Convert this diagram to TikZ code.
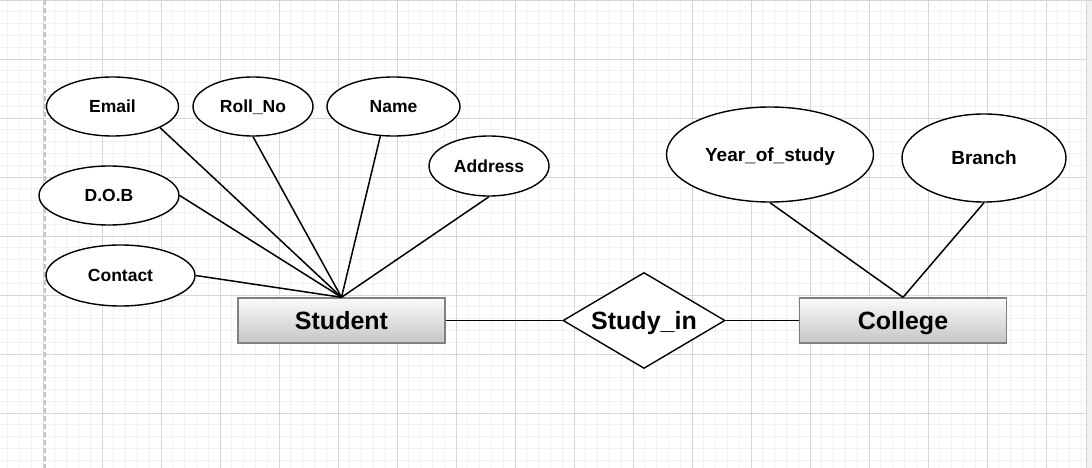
\documentclass[tikz,border=0pt]{standalone}
\usepackage{fontspec}
\setmainfont{Liberation Sans}
\usepackage{tikz}
\usetikzlibrary{shapes}
\usetikzlibrary{shapes.geometric}
\definecolor{minorgrid}{HTML}{F1F1F1}
\definecolor{majorgrid}{HTML}{D6D6D6}
\definecolor{guide}{HTML}{C2C2C2}
\definecolor{boxedge}{HTML}{808080}
\tikzset{
    finegrid/.style={draw=minorgrid, line width=0.7pt},
    coarsegrid/.style={draw=majorgrid, line width=0.9pt},
    guideline/.style={draw=guide, line width=2pt, dash pattern=on 5pt off 3pt},
    attr/.style={ellipse, draw=black, fill=white, line width=1.4pt, inner sep=0pt,
        text height=12.6pt, text depth=0pt,
        font=\fontsize{17.5}{20}\selectfont\bfseries},
    bigattr/.style={attr, text height=13.7pt,
        font=\fontsize{19}{22}\selectfont\bfseries},
    entity/.style={rectangle, draw=boxedge, line width=1.4pt, top color=gray!4,
        bottom color=gray!45, minimum width=207pt, minimum height=45pt,
        text height=18pt, text depth=0pt,
        font=\fontsize{25}{28}\selectfont\bfseries},
    relation/.style={diamond, draw=black, fill=white, line width=1.4pt, inner sep=0pt,
        aspect=1.69, minimum width=162pt, minimum height=96pt,
        text height=18pt, text depth=0pt,
        font=\fontsize{25}{28}\selectfont\bfseries},
    link/.style={draw=black, line width=1.5pt},
}

\begin{document}
\begin{tikzpicture}[x=1pt, y=-1pt]
\useasboundingbox (0,0) rectangle (1092,468);
\fill[white] (0,0) rectangle (1092,468);
% background grid
\foreach \i in {-4,...,88}
	\draw[finegrid] ({43+11.8*\i},0) -- ({43+11.8*\i},468);
\foreach \j in {0,...,39}
	\draw[finegrid] (0,{11.8*\j}) -- (1092,{11.8*\j});
\foreach \i in {0,...,17}
	\draw[coarsegrid] ({43+59*\i},0) -- ({43+59*\i},468);
\foreach \j in {0,...,7}
	\draw[coarsegrid] (0,{59*\j}) -- (1092,{59*\j});
\fill[minorgrid] (1086,0) rectangle (1092,468);
\draw[coarsegrid] (1086,0) -- (1086,468);
\draw[coarsegrid] (0,0.5) -- (1092,0.5);
\draw[guideline] (45,0) -- (45,468);

% Student side
\node[entity] (student) at (341.5,320.5) {Student};
\node[attr, minimum width=132pt, minimum height=59pt] (email) at (112.5,106.5) {Email};
\node[attr, minimum width=120pt, minimum height=59pt] (rollno) at (253,106.5) {Roll\_No};
\node[attr, minimum width=133pt, minimum height=59pt] (name) at (393.5,106.5) {Name};
\node[attr, minimum width=120pt, minimum height=60pt] (address) at (489,166) {Address};
\node[attr, minimum width=140pt, minimum height=59pt] (dob) at (109,195.5) {D.O.B};
\node[attr, minimum width=149pt, minimum height=61pt] (contact) at (120.5,275.5) {Contact};

% College side
\node[entity] (college) at (903,320.5) {College};
\node[bigattr, minimum width=207pt, minimum height=95pt] (year) at (770,154.5) {Year\_of\_study};
\node[bigattr, minimum width=164pt, minimum height=88pt] (branch) at (984,158) {Branch};

% relationship
\node[relation] (studyin) at (644,320.5) {Study\_in};

\draw[link] (email.-24) -- (student.north);
\draw[link] (rollno.south) -- (student.north);
\draw[link] (name.-114) -- (student.north);
\draw[link] (address.south) -- (student.north);
\draw[link] (dob.east) -- (student.north);
\draw[link] (contact.east) -- (student.north);
\draw[link] (year.south) -- (college.north);
\draw[link] (branch.south) -- (college.north);
\draw[link] (student.east) -- (studyin.west);
\draw[link] (studyin.east) -- (college.west);
\end{tikzpicture}
\end{document}
